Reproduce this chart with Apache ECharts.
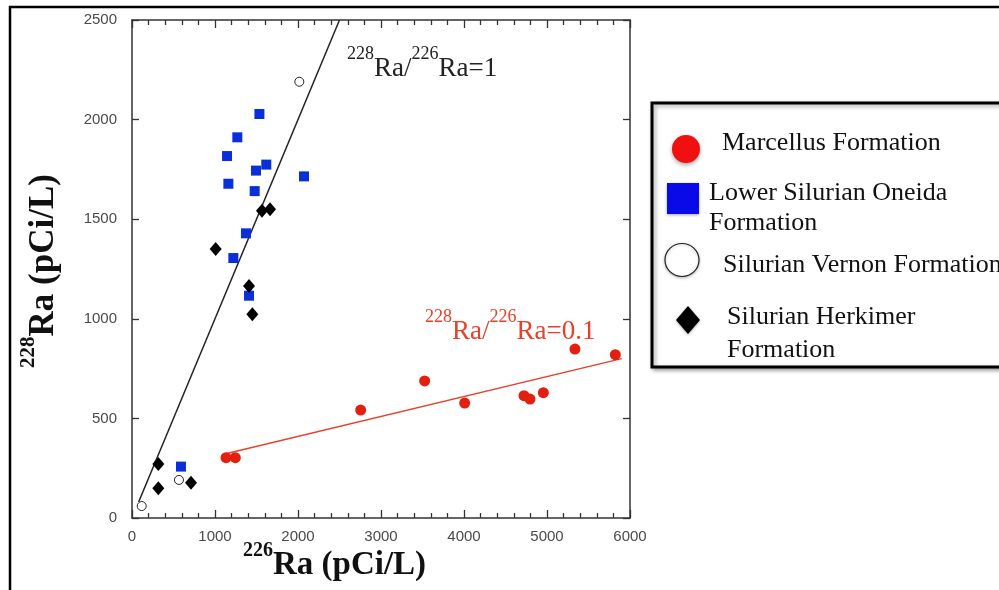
<!DOCTYPE html>
<html>
<head>
<meta charset="utf-8">
<script src="https://cdn.jsdelivr.net/npm/echarts@6/dist/echarts.min.js"></script>
<style>html,body{margin:0;padding:0;background:#fff}#c{width:999px;height:590px}</style>
</head>
<body>
<div id="c"></div>
<script>
// ---- data ----
const xTicks = [0, 1000, 2000, 3000, 4000, 5000, 6000];
const yTicks = [0, 500, 1000, 1500, 2000, 2500];
const marcellus = [[1133,303],[1245,303],[2755,542],[3526,688],[4008,577],[4723,614],[4795,597],[4956,629],[5337,848],[5823,820]];
const oneida = [[1535,2028],[1269,1911],[1145,1817],[1618,1774],[1494,1744],[2072,1715],[1161,1678],[1478,1641],[1373,1429],[1221,1305],[1410,1116],[590,258]];
const vernon = [[2016,2190],[566,191],[117,60]];
const herkimer = [[1566,1543],[1663,1550],[1008,1350],[1410,1165],[1450,1023],[317,271],[317,149],[711,177]];
const ratio1Line = [[80,80],[2500,2500]];
const ratio01Line = [[1130,323],[5900,800]];
const legendNames = ['Marcellus Formation', 'Lower Silurian Oneida\nFormation', 'Silurian Vernon Formation', 'Silurian Herkimer\nFormation'];

const chart = echarts.init(document.getElementById('c'));
const tickFont = {fontFamily: 'Liberation Sans, Arial, sans-serif', fontSize: 15, color: '#4a4a4a'};
const lineCol = '#333';
const serif = 'Liberation Serif, Times New Roman, serif';

function xAxisCfg(pos, labels) {
  return {
    type: 'value', position: pos, min: xTicks[0], max: xTicks[xTicks.length-1], interval: 1000,
    axisLine: {show: true, onZero: false, lineStyle: {color: lineCol, width: 1.5}},
    axisTick: {show: true, inside: true, length: 8, lineStyle: {color: lineCol, width: 1.3}},
    minorTick: {show: true, splitNumber: 5, length: 5, lineStyle: {color: lineCol, width: 1.3}},
    axisLabel: Object.assign({show: labels, margin: 11, formatter: v => String(v)}, tickFont),
    splitLine: {show: false}, minorSplitLine: {show: false}
  };
}
function yAxisCfg(pos, labels) {
  return {
    type: 'value', position: pos, min: yTicks[0], max: yTicks[yTicks.length-1], interval: 500,
    axisLine: {show: true, onZero: false, lineStyle: {color: lineCol, width: 1.5}},
    axisTick: {show: true, inside: true, length: 7, lineStyle: {color: lineCol, width: 1.3}},
    axisLabel: Object.assign({show: labels, margin: 15, formatter: v => String(v)}, tickFont),
    splitLine: {show: false}
  };
}

const annRich = (color) => ({
  s: {fontFamily: serif, fontSize: 18, verticalAlign: 'top', fill: color},
  m: {fontFamily: serif, fontSize: 27, verticalAlign: 'bottom', padding: [10, 0, 0, 0], fill: color}
});
const titleRich = (main, sup) => ({
  s: {fontFamily: serif, fontSize: sup, fontWeight: 'bold', verticalAlign: 'top', fill: '#111'},
  m: {fontFamily: serif, fontSize: main, fontWeight: 'bold', verticalAlign: 'bottom', padding: [8, 0, 0, 0], fill: '#111'}
});

chart.setOption({
  animation: false,
  backgroundColor: '#fff',
  grid: {left: 132, right: 369, top: 20, bottom: 72},
  xAxis: [xAxisCfg('bottom', true), xAxisCfg('top', false)],
  yAxis: [yAxisCfg('left', true), yAxisCfg('right', false)],
  series: [
    {type: 'line', data: ratio1Line, showSymbol: false, symbol: 'none', lineStyle: {color: '#222', width: 1.5}, z: 1},
    {type: 'line', data: ratio01Line, showSymbol: false, symbol: 'none', lineStyle: {color: '#e8402a', width: 1.5}, z: 1},
    {name: legendNames[0], type: 'scatter', data: marcellus, symbol: 'circle', symbolSize: 11, itemStyle: {color: '#e3200f', opacity: 1}, z: 3},
    {name: legendNames[1], type: 'scatter', data: oneida, symbol: 'rect', symbolSize: 10, itemStyle: {color: '#0a2fd9', opacity: 1}, z: 3},
    {name: legendNames[2], type: 'scatter', data: vernon, symbol: 'circle', symbolSize: 9, itemStyle: {color: '#fff', borderColor: '#222', borderWidth: 1, opacity: 1}, z: 3},
    {name: legendNames[3], type: 'scatter', data: herkimer, symbol: 'diamond', symbolSize: [12, 14], itemStyle: {color: '#000', opacity: 1}, z: 3}
  ],
  graphic: [
    // outer frame
    {type: 'rect', shape: {x: 10, y: 7, width: 1000, height: 600}, style: {fill: 'none', stroke: '#000', lineWidth: 2.5}, silent: true},
    // axis titles
    {type: 'text', x: 243, y: 541, style: {
      text: '{s|226}{m|Ra (pCi/L)}', align: 'left', verticalAlign: 'top', rich: titleRich(33, 20)
    }},
    {type: 'text', x: 18, y: 271, rotation: Math.PI/2, style: {
      text: '{s|228}{m|Ra (pCi/L)}', align: 'center', verticalAlign: 'top', rich: titleRich(35, 21)
    }},
    // annotations
    {type: 'text', x: 347, y: 45, style: {
      text: '{s|228}{m|Ra/}{s|226}{m|Ra=1}', align: 'left', verticalAlign: 'top', rich: annRich('#222')
    }},
    {type: 'text', x: 425, y: 308, style: {
      text: '{s|228}{m|Ra/}{s|226}{m|Ra=0.1}', align: 'left', verticalAlign: 'top', rich: annRich('#e8402a')
    }},
    // legend box
    {type: 'rect', shape: {x: 652, y: 103, width: 400, height: 264}, style: {fill: '#fff', stroke: '#000', lineWidth: 3, shadowBlur: 4, shadowColor: 'rgba(0,0,0,0.35)', shadowOffsetX: 2, shadowOffsetY: 2}},
    {type: 'circle', shape: {cx: 686, cy: 149, r: 14}, style: {fill: '#f01010', shadowBlur: 4, shadowColor: 'rgba(0,0,0,0.35)', shadowOffsetY: 2}},
    {type: 'text', x: 722, y: 143, style: {text: legendNames[0], fontFamily: serif, fontSize: 26, fill: '#111', verticalAlign: 'middle'}},
    {type: 'rect', shape: {x: 667, y: 183, width: 32, height: 31}, style: {fill: '#0a0ae8', shadowBlur: 3, shadowColor: 'rgba(0,0,0,0.35)', shadowOffsetY: 1}},
    {type: 'text', x: 709, y: 208, style: {text: legendNames[1], fontFamily: serif, fontSize: 26, lineHeight: 30, fill: '#111', verticalAlign: 'middle'}},
    {type: 'ellipse', shape: {cx: 682, cy: 260, rx: 17, ry: 16.5}, style: {fill: '#fff', stroke: '#222', lineWidth: 1.2, shadowBlur: 3, shadowColor: 'rgba(0,0,0,0.25)', shadowOffsetY: 1}},
    {type: 'text', x: 723, y: 265, style: {text: legendNames[2], fontFamily: serif, fontSize: 26, fill: '#111', verticalAlign: 'middle'}},
    {type: 'polygon', shape: {points: [[688, 306], [700, 320], [688, 334], [676, 320]]}, style: {fill: '#000', shadowBlur: 3, shadowColor: 'rgba(0,0,0,0.35)', shadowOffsetY: 1}},
    {type: 'text', x: 727, y: 334, style: {text: legendNames[3], fontFamily: serif, fontSize: 26, lineHeight: 33, fill: '#111', verticalAlign: 'middle'}}
  ]
});
</script>
</body>
</html>
